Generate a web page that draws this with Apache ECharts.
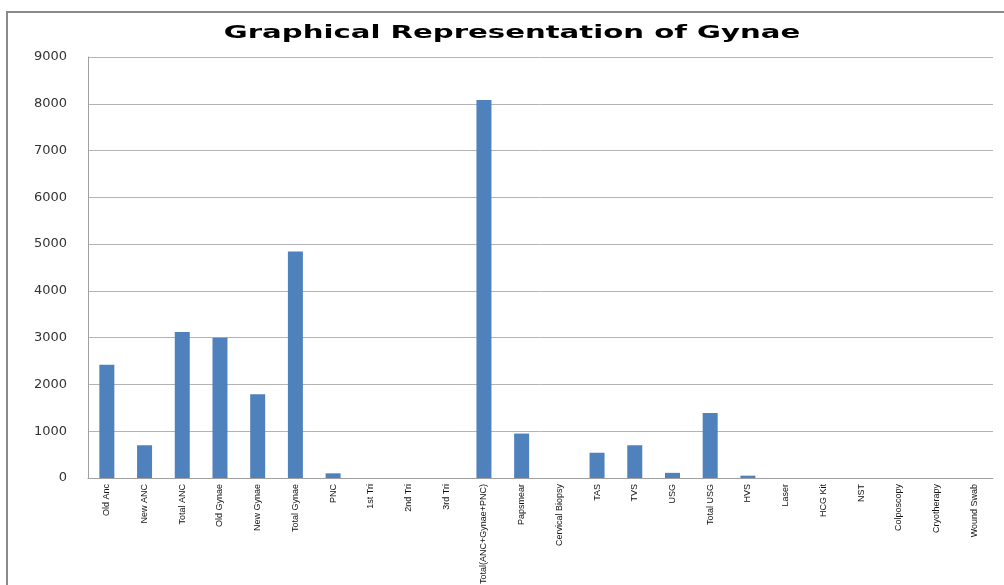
<!DOCTYPE html>
<html>
<head>
<meta charset="utf-8">
<script src="https://cdn.jsdelivr.net/npm/echarts@6/dist/echarts.min.js"></script>
<style>html,body{margin:0;padding:0;background:#fff}#c{width:1004px;height:585px}</style>
</head>
<body>
<div id="c"></div>
<script>
const categories = ["Old Anc","New ANC","Total ANC","Old Gynae","New Gynae","Total Gynae","PNC","1st Tri","2nd Tri","3rd Tri","Total(ANC+Gynae+PNC)","Papsmear","Cervical Biopsy","TAS","TVS","USG","Total USG","HVS","Laser","HCG Kit","NST","Colposcopy","Cryotherapy","Wound Swab"];
const values = [2420,700,3120,3000,1790,4840,100,0,0,0,8080,950,0,540,700,110,1390,50,0,0,0,0,0,0];
const titleText = "Graphical Representation of Gynae";
const yMin = 0, yMax = 9000, yStep = 1000;

const chart = echarts.init(document.getElementById('c'));
chart.setOption({
  animation: false,
  backgroundColor: '#ffffff',
  graphic: [
    { type: 'polyline', shape: { points: [[7,585],[7,12],[1004,12]] }, style: { stroke: '#8a8a8a', lineWidth: 2, fill: null } },
    { type: 'text', x: 512, y: 33, scaleX: 1.62, style: { text: titleText, font: 'bold 18px "DejaVu Sans"', fill: '#000', align: 'center', verticalAlign: 'middle' } }
  ],
  grid: { left: 88, right: 11, top: 57, bottom: 107, containLabel: false, outerBoundsMode: 'none' },
  xAxis: {
    type: 'category',
    data: categories,
    axisLine: { show: true, lineStyle: { color: '#a0a0a0' } },
    axisTick: { show: false },
    axisLabel: { interval: 0, rotate: 90, margin: 6, fontFamily: '"Liberation Sans Narrow", "Arial Narrow", "Liberation Sans", sans-serif', fontSize: 9, color: '#111' }
  },
  yAxis: {
    type: 'value',
    min: yMin, max: yMax, interval: yStep,
    axisLine: { show: true, lineStyle: { color: '#a0a0a0' } },
    axisTick: { show: false },
    splitLine: { lineStyle: { color: '#b4b4b4' } },
    axisLabel: { margin: 21, fontFamily: '"DejaVu Sans"', fontSize: 13, color: '#333', formatter: function (v) { return String(v); } }
  },
  series: [{
    type: 'bar',
    data: values,
    barWidth: 15,
    itemStyle: { color: '#4f81bd' }
  }]
});
</script>
</body>
</html>
